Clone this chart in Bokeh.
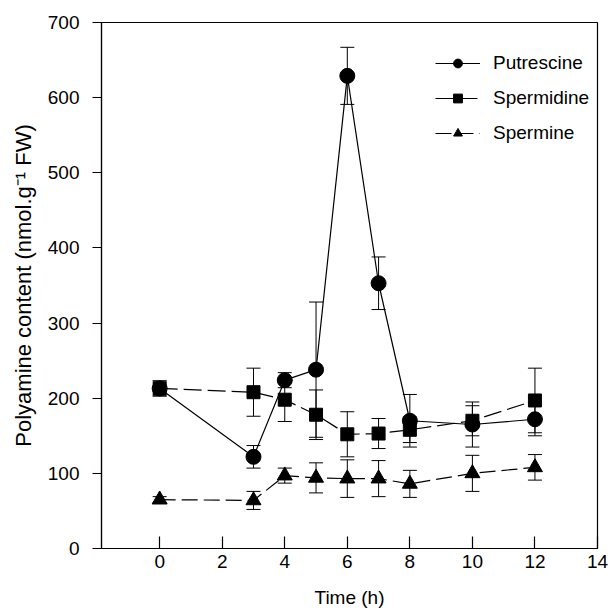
from bokeh.plotting import figure
from bokeh.models import (ColumnDataSource, Whisker, TeeHead, Legend, LegendItem,
                          FixedTicker, Range1d)
from bokeh.embed import file_html
from bokeh.resources import INLINE

# ---- data ----
time = [0, 3, 4, 5, 6, 7, 8, 10, 12]
putrescine = [213, 122, 224, 238, 629, 353, 170, 165, 172]
putrescine_err = [10, 15, 10, 90, 38, 35, 35, 30, 22]
spermidine = [213, 208, 198, 178, 152, 153, 158, 170, 197]
spermidine_err = [10, 32, 29, 33, 30, 20, 17, 20, 43]
spermine = [65, 64, 97, 94, 93, 93, 86, 100, 108]
spermine_err = [4, 12, 10, 20, 25, 24, 18, 24, 17]

x_ticks = [0, 2, 4, 6, 8, 10, 12, 14]
y_ticks = [0, 100, 200, 300, 400, 500, 600, 700]

FONT = "Liberation Sans"

p = figure(width=609, height=611, output_backend="svg", toolbar_location=None,
           x_range=Range1d(-1.86, 14), y_range=Range1d(0, 700),
           min_border_left=101, min_border_right=12, min_border_top=22,
           min_border_bottom=63)
p.grid.visible = False
p.outline_line_color = "black"
p.outline_line_width = 1.2
p.background_fill_color = "white"
p.border_fill_color = "white"

# axes
p.xaxis.ticker = FixedTicker(ticks=x_ticks)
p.yaxis.ticker = FixedTicker(ticks=y_ticks)
p.xaxis.axis_label = "Time (h)"
p.yaxis.axis_label = "Polyamine content (nmol.g\u207b\u00b9 FW)"
for ax in (p.xaxis, p.yaxis):
    ax.axis_line_color = "black"
    ax.axis_line_width = 1.2
    ax.major_tick_line_color = "black"
    ax.major_tick_line_width = 1.2
    ax.minor_tick_line_color = None
    ax.major_label_text_font = FONT
    ax.major_label_text_font_size = "19px"
    ax.major_label_text_color = "black"
    ax.axis_label_text_font = FONT
    ax.axis_label_text_font_style = "normal"
    ax.axis_label_text_color = "black"
p.xaxis.major_tick_in = 12
p.xaxis.major_tick_out = 0
p.xaxis.major_label_standoff = 6
p.xaxis.axis_label_text_font_size = "19px"
p.xaxis.axis_label_standoff = 16
p.yaxis.major_tick_in = 0
p.yaxis.major_tick_out = 9
p.yaxis.major_label_standoff = 13
p.yaxis.axis_label_text_font_size = "22px"
p.yaxis.axis_label_standoff = 9

series = [
    ("Putrescine", putrescine, putrescine_err, "circle", 15, "solid"),
    ("Spermidine", spermidine, spermidine_err, "square", 13, "18 6"),
    ("Spermine", spermine, spermine_err, "triangle", 15, "16 6"),
]

items = []
for name, vals, errs, marker, size, dash in series:
    src = ColumnDataSource(dict(
        t=time, v=vals,
        lo=[v - e for v, e in zip(vals, errs)],
        hi=[v + e for v, e in zip(vals, errs)],
    ))
    w = Whisker(base="t", lower="lo", upper="hi", source=src,
                line_color="black", line_width=1,
                upper_head=TeeHead(size=14, line_color="black", line_width=1),
                lower_head=TeeHead(size=14, line_color="black", line_width=1))
    p.add_layout(w)
    ln = p.line("t", "v", source=src, line_color="black", line_width=1.2,
                line_dash=dash)
    sc = p.scatter("t", "v", source=src, marker=marker, size=size,
                   fill_color="black", line_color="black")
    items.append(LegendItem(label=name, renderers=[ln, sc]))

legend = Legend(items=items, location=(334, 404), orientation="vertical",
                border_line_color=None, background_fill_alpha=0,
                padding=0, margin=0, spacing=13,
                glyph_width=45, glyph_height=22, label_height=22,
                label_standoff=13,
                label_text_font=FONT, label_text_font_size="19px",
                label_text_color="black")
p.add_layout(legend)

open("out.html", "w").write(file_html(p, INLINE))
